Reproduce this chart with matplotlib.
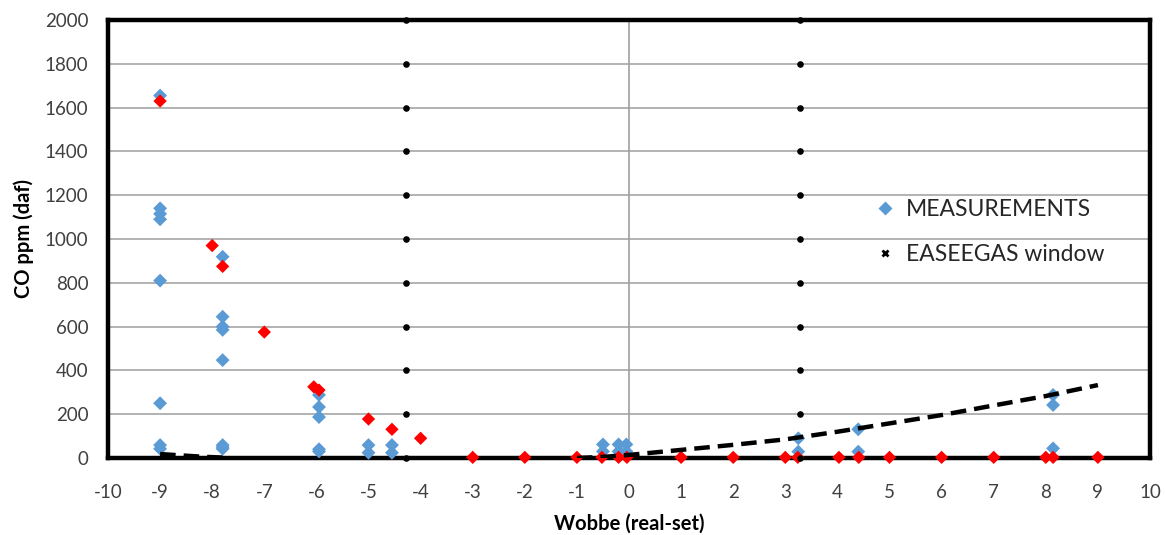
import matplotlib
matplotlib.use("Agg")
import matplotlib.pyplot as plt
from matplotlib.lines import Line2D

plt.rcParams['font.family'] = ['Lato', 'DejaVu Sans']
plt.rcParams['axes.unicode_minus'] = False

# Measured CO (blue) per Wobbe deviation
meas_x = [-9, -9, -9, -9, -9, -9, -9, -9,
          -7.8, -7.8, -7.8, -7.8, -7.8, -7.8, -7.8, -7.8,
          -5.95, -5.95, -5.95, -5.95, -5.95,
          -5, -5, -4.55, -4.55,
          -0.5, -0.5, -0.2, -0.2, -0.05, -0.05,
          3.25, 3.25, 4.4, 4.4,
          8.14, 8.14, 8.14]
meas_y = [1655, 1140, 1115, 1090, 810, 250, 59, 42,
          919, 645, 600, 585, 447, 59, 50, 42,
          288, 233, 187, 40, 30,
          59, 24, 59, 24,
          62, 30, 62, 30, 62, 30,
          90, 29, 131, 29,
          288, 242, 44]

# Second measurement set (red)
red_x = [-9, -8, -7.8, -7, -6.05, -5.95, -5, -4.55, -4,
         -3, -2, -1, -0.52, -0.2, -0.04, 1, 2, 3, 3.24,
         4.03, 4.41, 5, 6, 7, 8, 8.14, 9]
red_y = [1630, 970, 875, 575, 325, 310, 178, 131, 90,
         3, 3, 3, 3, 3, 3, 3, 3, 3, 3,
         3, 3, 3, 3, 3, 3, 3, 3]

# EASEEGAS window limits
window_lo = -4.28
window_hi = 3.28
window_y = [0, 200, 400, 600, 800, 1000, 1200, 1400, 1600, 1800, 2000]

# Trend curves
trend1_x = [-9, -8.6, -8.2, -7.8]
trend1_y = [18, 12, 6, 2]
trend2_x = [-1, -0.5, 0, 1, 2, 3, 4, 5, 6, 7, 8, 9]
trend2_y = [0, 5, 14, 37, 60, 85, 120, 158, 196, 240, 283, 333]

x_ticks = list(range(-10, 11))
y_ticks = list(range(0, 2001, 200))

fig = plt.figure(figsize=(11.65, 5.35), dpi=100)
ax = fig.add_axes([108 / 1165, 1 - 458 / 535, (1150 - 108) / 1165, (458 - 20) / 535])

ax.set_xlim(-10, 10)
ax.set_ylim(0, 2000)
ax.set_xticks(x_ticks)
ax.set_yticks(y_ticks)
ax.tick_params(axis='both', length=0, labelsize=13.5, colors='#404040')
ax.tick_params(axis='x', pad=19)
ax.tick_params(axis='y', pad=14)

for yv in y_ticks[1:-1]:
    ax.axhline(yv, color='#a6a6a6', lw=1.2, zorder=1)
ax.axvline(0, color='#a0a0a0', lw=1.2, zorder=1)

for s in ax.spines.values():
    s.set_linewidth(3.2)
    s.set_color('black')
    s.set_zorder(2.5)

ax.scatter(meas_x, meas_y, marker='D', s=50, color='#5B9BD5', edgecolors='none',
           zorder=3, clip_on=False)
ax.scatter(red_x, red_y, marker='D', s=46, color='#FF0000', edgecolors='none',
           zorder=4, clip_on=False)

ax.plot(trend1_x, trend1_y, color='black', lw=3.2, ls=(0, (3.5, 1.8)), zorder=5)
ax.plot(trend2_x, trend2_y, color='black', lw=3.2, ls=(0, (3.5, 1.8)), zorder=5)

ax.scatter([window_lo] * len(window_y), window_y, s=14, color='black', zorder=6, clip_on=False)
ax.scatter([window_hi] * len(window_y), window_y, s=14, color='black', zorder=6, clip_on=False)

ax.set_xlabel('Wobbe (real-set)', fontsize=14.5, fontweight='bold', labelpad=9)
ax.set_ylabel('CO ppm (daf)', fontsize=14.5, fontweight='bold', labelpad=8)

handles = [
    Line2D([], [], ls='none', marker='D', markersize=7, color='#5B9BD5', markeredgecolor='none'),
    Line2D([], [], ls='none', marker='x', markersize=4, markeredgewidth=2, color='black'),
]
ax.legend(handles, ['MEASUREMENTS', 'EASEEGAS window'], loc='upper left',
          bbox_to_anchor=(745 / 1042, 1 - 158 / 438), frameon=False, fontsize=16.5,
          labelspacing=1.05, handletextpad=0.4, handlelength=1.0, labelcolor='#262626')

fig.savefig('out.png', dpi=100)
